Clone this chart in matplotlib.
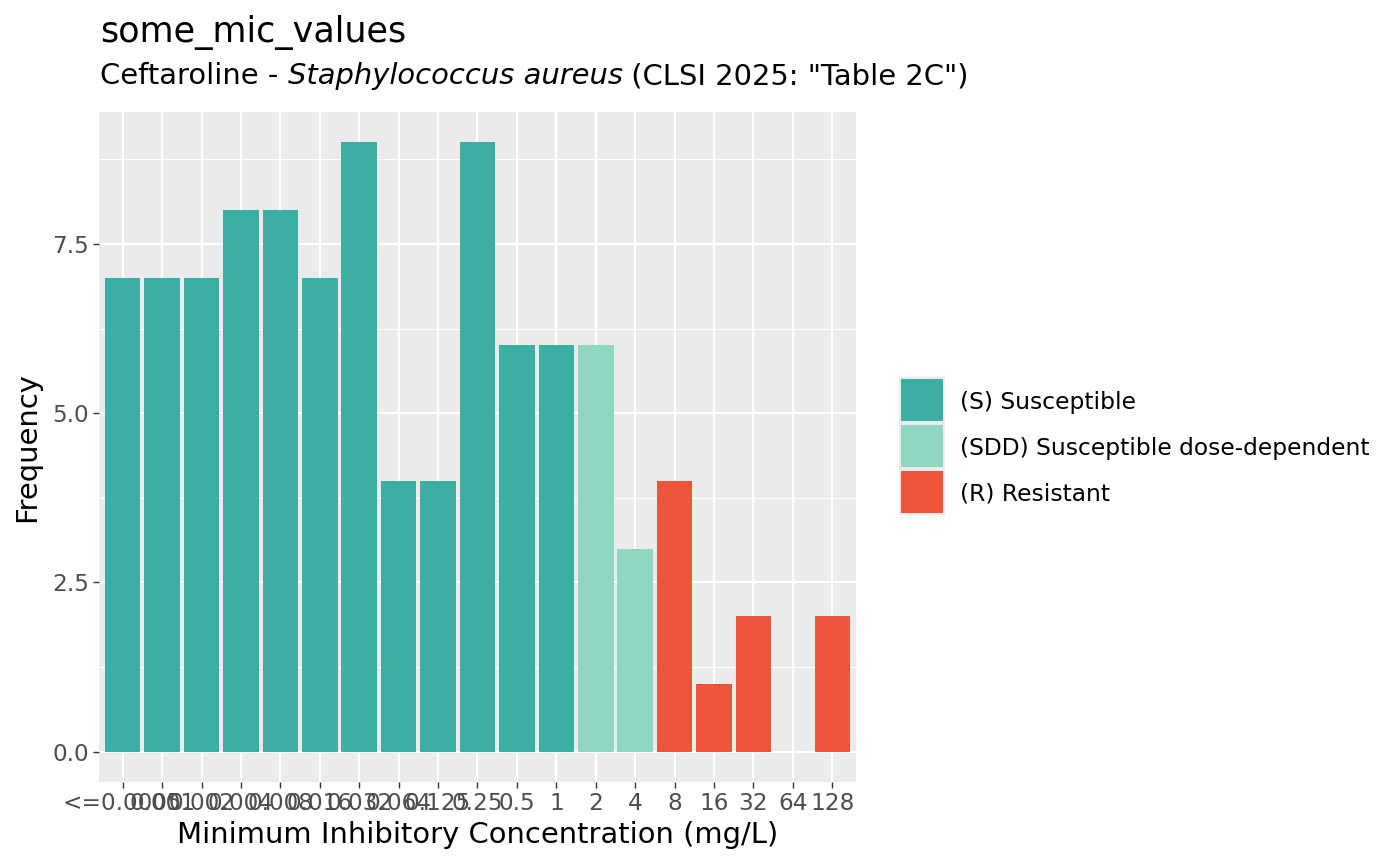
import matplotlib
matplotlib.use("Agg")
import matplotlib.pyplot as plt
from matplotlib.patches import Rectangle

# ---- data ----
mic_labels = ["<=0.0005", "0.001", "0.002", "0.004", "0.008", "0.016", "0.032",
              "0.064", "0.125", "0.25", "0.5", "1", "2", "4", "8", "16", "32",
              "64", "128"]
frequency = [7, 7, 7, 8, 8, 7, 9, 4, 4, 9, 6, 6, 6, 3, 4, 1, 2, 0, 2]
interpretation = ["S", "S", "S", "S", "S", "S", "S", "S", "S", "S", "S", "S",
                  "SDD", "SDD", "R", "R", "R", "R", "R"]
legend_labels = ["(S) Susceptible", "(SDD) Susceptible dose-dependent", "(R) Resistant"]
legend_keys = ["S", "SDD", "R"]
colors = {"S": "#3CAEA3", "SDD": "#8FD6C3", "R": "#ED553B"}

W, H = 1400, 866
fig = plt.figure(figsize=(W / 100, H / 100), dpi=100)
plt.rcParams['font.family'] = ['DejaVu Sans']

def fx(px):
    return px / W

def fy(py):
    return 1 - py / H

# panel
left, right, top, bottom = 99, 856, 112, 782
ax = fig.add_axes([fx(left), fy(bottom), fx(right) - fx(left), fy(top) - fy(bottom)])
ax.set_facecolor("#EBEBEB")
for s in ax.spines.values():
    s.set_visible(False)

x = list(range(1, len(mic_labels) + 1))
bar_colors = [colors[c] for c in interpretation]
ax.bar(x, frequency, width=0.9, color=bar_colors, zorder=3, linewidth=0)

n = len(mic_labels)
ax.set_xlim(0.4, n + 0.6)
ymax = max(frequency)
ax.set_ylim(-0.05 * ymax, ymax * 1.05)

ax.set_xticks(x)
ax.set_xticklabels(mic_labels)
ax.set_yticks([0, 2.5, 5.0, 7.5])
ax.set_yticklabels(["0.0", "2.5", "5.0", "7.5"])
ax.set_yticks([1.25, 3.75, 6.25, 8.75], minor=True)
ax.grid(which="major", color="white", linewidth=1.55, zorder=0)
ax.grid(which="minor", axis="y", color="white", linewidth=0.75, zorder=0)
ax.set_axisbelow(True)
ax.tick_params(axis="both", which="major", length=4.5, width=1.0, color="#333333",
               labelsize=16.7, labelcolor="#4D4D4D", pad=2.5)
ax.tick_params(axis="y", which="minor", length=0)

ax.set_xlabel("Minimum Inhibitory Concentration (mg/L)", fontsize=20.9, color="black", labelpad=4.5)
ax.set_ylabel("Frequency", fontsize=20.9, color="black", labelpad=8)

# title & subtitle
fig.text(fx(100), fy(42), "some_mic_values", fontsize=25.2, ha="left", va="baseline")
renderer = fig.canvas.get_renderer()
xpos = 100
base_y = fy(84)
pieces = [("Ceftaroline - ", "normal"), ("Staphylococcus aureus", "italic"),
          (" (CLSI 2025: \"Table 2C\")", "normal")]
for txt, style in pieces:
    t = fig.text(fx(xpos), base_y, txt, fontsize=20.9, style=style, ha="left", va="baseline")
    bb = t.get_window_extent(renderer=renderer)
    xpos = bb.x1

# legend (manual)
key_x0, key_y0, key = 899, 377, 46
fig.add_artist(Rectangle((fx(key_x0), fy(key_y0 + 3 * key)), key / W, 3 * key / H,
                         transform=fig.transFigure, facecolor="#EBEBEB", edgecolor="none"))
for i, (k, lab) in enumerate(zip(legend_keys, legend_labels)):
    y0 = key_y0 + i * key
    fig.add_artist(Rectangle((fx(key_x0 + 2), fy(y0 + key - 2)), (key - 4) / W, (key - 4) / H,
                             transform=fig.transFigure, facecolor=colors[k], edgecolor="none"))
    fig.text(fx(960), fy(y0 + key / 2 + 2), lab, fontsize=16.8, ha="left", va="center")

fig.savefig("out.png", dpi=100)
